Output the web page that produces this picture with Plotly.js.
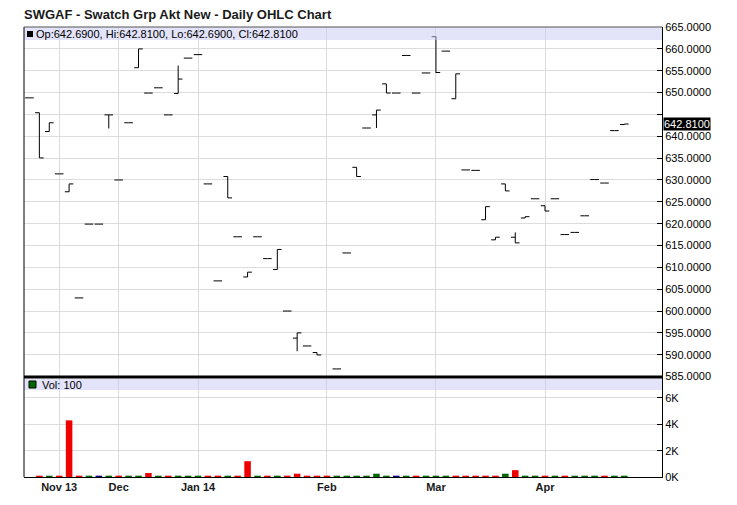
<!DOCTYPE html>
<html><head><meta charset="utf-8">
<script src="https://cdn.plot.ly/plotly-3.0.1.min.js"></script>
<style>html,body{margin:0;padding:0;background:#fff}#chart{width:737px;height:505px}</style>
</head><body><div id="chart"></div>
<script>
const opens = [648.8, 645.4, 641.1, 631.4, 627.3, 603.0, 619.9, 619.9, 644.9, 630.0,
  643.1, 655.7, 649.9, 651.1, 644.9, 649.8, 657.9, 658.7, 629.1, 606.9,
  630.8, 617.0, 607.8, 617.0, 612.0, 609.5, 600.0, 593.8, 592.0, 590.5,
  585.0, 586.75, 613.3, 632.9, 641.9, 644.9, 652.0, 649.9, 658.5, 649.9,
  654.5, 662.8, 659.5, 648.6, 632.3, 632.2, 620.9, 616.3, 629.1, 616.9,
  621.3, 625.7, 624.1, 625.7, 617.5, 618.0, 621.8, 630.1, 629.3, 641.3,
  642.69];
const highs = [648.8, 645.4, 643.1, 631.4, 629.1, 603.0, 619.9, 619.9, 644.9, 630.0,
  643.1, 660.0, 649.9, 651.1, 644.9, 656.2, 657.9, 658.7, 629.1, 606.9,
  630.8, 617.0, 608.9, 617.0, 612.0, 614.1, 600.0, 595.0, 592.0, 590.5,
  585.0, 586.75, 613.3, 632.9, 641.9, 646.0, 652.0, 649.9, 658.5, 649.9,
  654.5, 662.8, 659.5, 654.3, 632.3, 632.2, 623.9, 616.9, 629.1, 618.0,
  621.6, 625.7, 624.1, 625.7, 617.5, 618.0, 621.8, 630.1, 629.3, 641.3,
  642.81];
const lows = [648.8, 635.05, 641.1, 631.4, 627.3, 603.0, 619.9, 619.9, 641.8, 630.0,
  643.1, 655.7, 649.9, 651.1, 644.9, 649.8, 657.9, 658.7, 629.1, 606.9,
  625.9, 617.0, 607.8, 617.0, 612.0, 609.5, 600.0, 590.8, 592.0, 589.95,
  585.0, 586.75, 613.3, 630.8, 641.9, 641.9, 649.9, 649.9, 658.5, 649.9,
  654.5, 654.5, 659.5, 648.6, 632.3, 632.2, 620.9, 616.3, 627.5, 615.6,
  621.3, 625.7, 622.9, 625.7, 617.5, 618.0, 621.8, 630.1, 629.3, 641.3,
  642.69];
const closes = [648.8, 635.05, 643.1, 631.4, 629.1, 603.0, 619.9, 619.9, 644.9, 630.0,
  643.1, 660.0, 649.9, 651.1, 644.9, 653.1, 657.9, 658.7, 629.1, 606.9,
  625.9, 617.0, 608.9, 617.0, 612.0, 614.1, 600.0, 595.0, 592.0, 589.95,
  585.0, 586.75, 613.3, 630.8, 641.9, 646.0, 649.9, 649.9, 658.5, 649.9,
  654.5, 654.6, 659.5, 654.3, 632.3, 632.2, 623.9, 616.9, 627.5, 615.6,
  621.6, 625.7, 622.9, 625.7, 617.5, 618.0, 621.8, 630.1, 629.3, 641.3,
  642.81];
const volumes = [0, 100, 100, 100, 4300, 100, 100, 100, 100, 100,
  100, 100, 300, 100, 100, 100, 100, 100, 100, 100,
  100, 100, 1200, 100, 100, 100, 100, 250, 100, 100,
  100, 100, 100, 100, 100, 250, 100, 100, 100, 100,
  100, 100, 100, 100, 100, 100, 100, 100, 250, 520,
  100, 100, 100, 100, 100, 100, 100, 100, 100, 100,
  100];
const monthTickIdx = [3, 9, 17, 30, 41, 52];
const monthTickText = ['Nov 13', 'Dec', 'Jan 14', 'Feb', 'Mar', 'Apr'];
const priceTickVals = [585, 590, 595, 600, 605, 610, 615, 620, 625, 630, 635, 640, 645, 650, 655, 660, 665];
const priceTickText = ['585.0000','590.0000','595.0000','600.0000','605.0000','610.0000','615.0000','620.0000','625.0000','630.0000','635.0000','640.0000','','650.0000','655.0000','660.0000','665.0000'];
const volTickVals = [0, 2000, 4000, 6000];
const volTickText = ['0K', '2K', '4K', '6K'];
const lastLabel = 'Op:642.6900, Hi:642.8100, Lo:642.6900, Cl:642.8100';
const lastClose = 642.81;
const volLabel = 'Vol: 100';

const dayIdx = opens.map((_, i) => i);
const volColors = closes.map((c, i) => {
  if (i === 0) return '#006600';
  if (c > closes[i - 1]) return '#006600';
  if (c < closes[i - 1]) return '#ee0000';
  return '#000080';
});

const FONT = 'Liberation Sans, Arial, sans-serif';
const grid = '#dcdcdc';
const split = 100 / 450;

const traces = [
  {
    type: 'ohlc', x: dayIdx, open: opens, high: highs, low: lows, close: closes,
    xaxis: 'x', yaxis: 'y', tickwidth: 0.43,
    increasing: {line: {color: '#000', width: 1}},
    decreasing: {line: {color: '#000', width: 1}},
    hoverinfo: 'skip', showlegend: false
  },
  {
    type: 'bar', x: dayIdx, y: volumes, xaxis: 'x', yaxis: 'y2', width: 0.66,
    marker: {color: volColors, line: {width: 0}}, hoverinfo: 'skip', showlegend: false
  }
];

const layout = {
  width: 737, height: 505,
  margin: {l: 24, r: 75, t: 27, b: 28},
  paper_bgcolor: '#fff', plot_bgcolor: '#fff',
  font: {family: FONT, size: 11, color: '#000'},
  title: {
    text: 'SWGAF - Swatch Grp Akt New - Daily OHLC Chart',
    font: {family: FONT, size: 13, color: '#1a1a1a', weight: 'bold'},
    xref: 'container', yref: 'container', x: 24 / 737, xanchor: 'left',
    y: 1 - 14 / 505, yanchor: 'middle'
  },
  xaxis: {
    anchor: 'y2', range: [-0.55, 63.8], tickvals: monthTickIdx, ticktext: monthTickText,
    tickfont: {family: FONT, size: 11, color: '#1a1a1a', weight: 'bold'},
    showgrid: true, gridcolor: grid, gridwidth: 1, zeroline: false,
    showline: true, linecolor: '#000', linewidth: 1, ticks: '',
    rangeslider: {visible: false}, fixedrange: true
  },
  yaxis: {
    domain: [split, 1], side: 'right', anchor: 'x', range: [584.9, 665.02],
    tickvals: priceTickVals, ticktext: priceTickText,
    ticks: 'inside', ticklen: 5, tickcolor: '#000',
    showline: true, linecolor: '#000', linewidth: 1,
    showgrid: true, gridcolor: grid, zeroline: false,
    tickfont: {family: FONT, size: 11, color: '#000'}, fixedrange: true
  },
  yaxis2: {
    domain: [0, split], side: 'right', anchor: 'x', range: [0, 7590],
    tickvals: volTickVals, ticktext: volTickText,
    ticks: 'inside', ticklen: 5, tickcolor: '#000',
    showline: true, linecolor: '#000', linewidth: 1,
    showgrid: true, gridcolor: grid, zeroline: false,
    tickfont: {family: FONT, size: 11, color: '#000'}, fixedrange: true
  },
  shapes: [
    {type: 'rect', xref: 'paper', yref: 'paper', x0: 0, x1: 1, y0: 1 - 13 / 450, y1: 1,
     fillcolor: 'rgba(200,200,245,0.5)', line: {width: 0}, layer: 'above'},
    {type: 'rect', xref: 'paper', yref: 'paper', x0: 0, x1: 1, y0: 87 / 450, y1: 98 / 450,
     fillcolor: 'rgba(200,200,245,0.5)', line: {width: 0}, layer: 'above'},
    {type: 'line', xref: 'paper', yref: 'paper', x0: 0, x1: 0, y0: 0, y1: 1,
     line: {color: '#000', width: 1}, layer: 'above'},
    {type: 'line', xref: 'paper', yref: 'paper', x0: 0, x1: 1, y0: 1, y1: 1,
     line: {color: '#555', width: 1}, layer: 'above'},
    {type: 'line', xref: 'paper', yref: 'paper', x0: 0, x1: 1, y0: split, y1: split,
     line: {color: '#000', width: 3}, layer: 'above'},
    {type: 'rect', xref: 'paper', yref: 'paper', xsizemode: 'pixel', ysizemode: 'pixel',
     xanchor: 0, yanchor: 1, x0: 3, x1: 9, y0: -4, y1: -10,
     fillcolor: '#000', line: {width: 0}, layer: 'above'},
    {type: 'rect', xref: 'paper', yref: 'paper', xsizemode: 'pixel', ysizemode: 'pixel',
     xanchor: 0, yanchor: split, x0: 5, x1: 12, y0: -4, y1: -11,
     fillcolor: '#006600', line: {color: '#000', width: 1}, layer: 'above'}
  ],
  annotations: [
    {xref: 'paper', yref: 'paper', x: 0, y: 1, xanchor: 'left', yanchor: 'middle',
     xshift: 10, yshift: -7, text: lastLabel, showarrow: false,
     font: {family: FONT, size: 11, color: '#000'}},
    {xref: 'paper', yref: 'paper', x: 0, y: split, xanchor: 'left', yanchor: 'middle',
     xshift: 16, yshift: -8, text: volLabel, showarrow: false,
     font: {family: FONT, size: 11, color: '#000'}},
    {xref: 'paper', yref: 'y', x: 1, y: lastClose, xanchor: 'left', yanchor: 'middle',
     xshift: 1, text: lastClose.toFixed(4), showarrow: false, bgcolor: '#000',
     borderpad: 0, font: {family: FONT, size: 11, color: '#fff'}}
  ]
};

Plotly.newPlot('chart', traces, layout, {displayModeBar: false, staticPlot: true});
</script>
</body></html>
